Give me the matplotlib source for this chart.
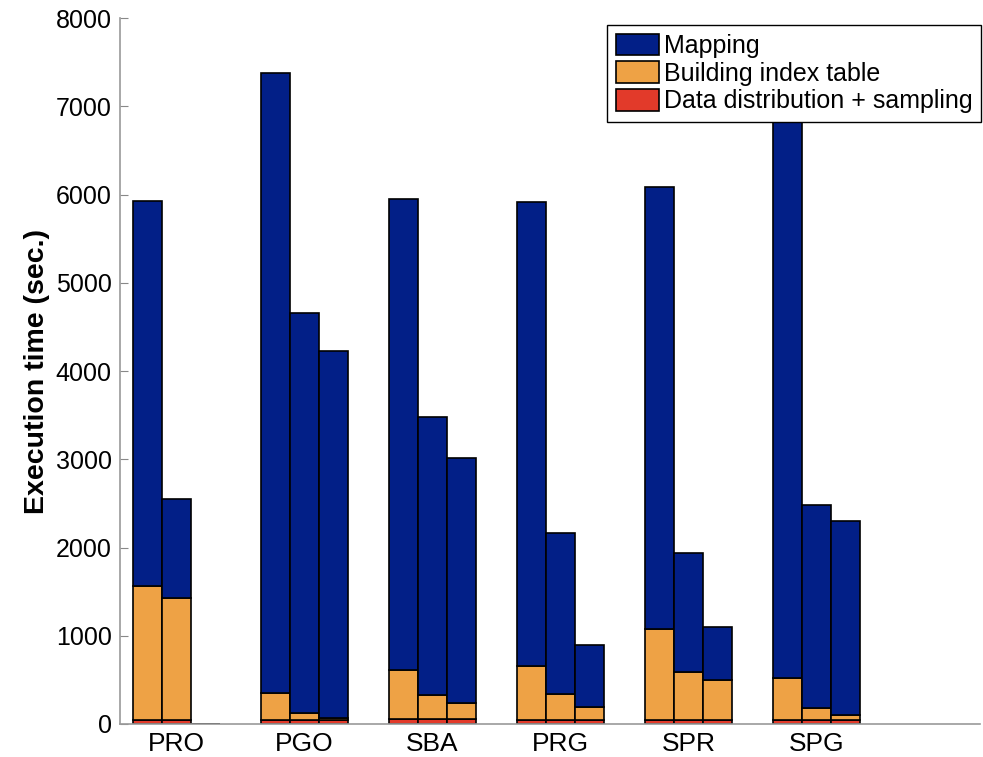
import numpy as np
import matplotlib.pyplot as plt

# execution time breakdown, three runs per method (seconds)
methods = ['PRO', 'PGO', 'SBA', 'PRG', 'SPR', 'SPG']
sampling = [[50, 50, 0], [50, 50, 45], [55, 55, 55],
            [40, 40, 40], [50, 50, 50], [50, 50, 50]]
index_table = [[1510, 1380, 0], [305, 80, 25], [555, 275, 187],
               [618, 300, 156], [1024, 543, 449], [475, 135, 52]]
mapping = [[4370, 1121, 0], [7022, 4526, 4159], [5342, 3151, 2770],
           [5257, 1822, 694], [5006, 1342, 597], [6975, 2295, 2203]]

c_map = '#021f87'
c_index = '#eea245'
c_samp = '#e23a2a'

plt.rcParams['font.family'] = ['Liberation Sans', 'DejaVu Sans']

fig = plt.figure(figsize=(9.83, 7.57), dpi=100)
ax = fig.add_axes([0.1221, 0.0436, 0.8749, 0.9326])

samp = np.array(sampling)
idx = np.array(index_table)
mp = np.array(mapping)
x = np.arange(1, len(methods) + 1)
w = 0.2265

for j in range(3):
    pos = x + (j - 1) * w
    kw = dict(width=w, edgecolor='black', linewidth=1.2)
    ax.bar(pos, samp[:, j], color=c_samp, label='Data distribution + sampling' if j == 0 else None, **kw)
    ax.bar(pos, idx[:, j], bottom=samp[:, j], color=c_index,
           label='Building index table' if j == 0 else None, **kw)
    ax.bar(pos, mp[:, j], bottom=samp[:, j] + idx[:, j], color=c_map,
           label='Mapping' if j == 0 else None, **kw)

ax.set_ylim(0, 8000)
ax.set_xlim(0.559, 7.277)
ax.set_yticks(range(0, 8001, 1000))
ax.set_xticks(x)
ax.set_xticklabels(methods)
ax.tick_params(axis='x', length=0, labelsize=19, pad=6)
ax.tick_params(axis='y', direction='in', length=6, color='#888888', labelsize=18, pad=6)
ax.set_ylabel('Execution time (sec.)', fontsize=20.5, fontweight='bold', labelpad=4)

for s in ['top', 'right']:
    ax.spines[s].set_visible(False)
for s in ['left', 'bottom']:
    ax.spines[s].set_color('#999999')
    ax.spines[s].set_linewidth(1.2)

handles, labels = ax.get_legend_handles_labels()
leg = ax.legend(handles[::-1], labels[::-1], loc='upper right',
                bbox_to_anchor=(981 / 983, 1 - 25 / 757), bbox_transform=fig.transFigure,
                fontsize=18, fancybox=False, edgecolor='black', framealpha=1,
                borderaxespad=0, handlelength=1.72, handleheight=0.95,
                labelspacing=0.13, handletextpad=0.2, borderpad=0.35)
leg.get_frame().set_linewidth(1.0)

fig.savefig('out.png', dpi=100)
